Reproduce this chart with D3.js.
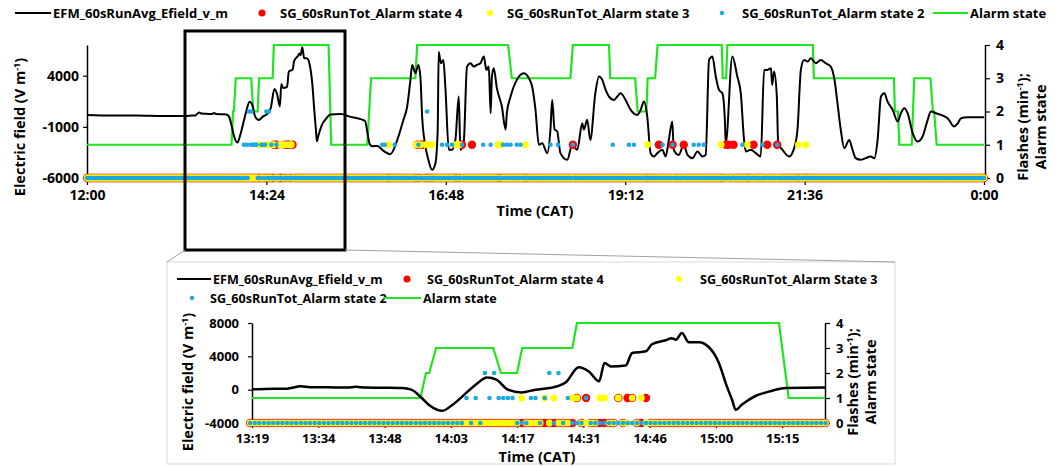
<!DOCTYPE html>
<html>
<head>
<meta charset="utf-8">
<script src="https://cdn.jsdelivr.net/npm/d3@7"></script>
<style>
  body { margin: 0; background: #fff; }
  text { font-family: "Open Sans", sans-serif; font-weight: 700; fill: #000; }
</style>
</head>
<body>
<script>
// E-field 60 s running average (V/m)
const efTimes = [
  "12:00", "12:20", "12:40", "13:00", "13:19.4", "13:24", "13:27", "13:30", "13:32", "13:36",
  "13:40", "13:42", "13:44", "13:48", "13:52", "13:54", "13:56", "13:58", "14:00.7", "14:03",
  "14:06", "14:08", "14:10.5", "14:12.5", "14:15", "14:18", "14:21", "14:24", "14:26", "14:27.6",
  "14:30.4", "14:32.6", "14:34.8", "14:36", "14:37.4", "14:40.6", "14:42", "14:45", "14:46.3", "14:49.3",
  "14:50.6", "14:51.5", "14:52.8", "14:54.3", "14:56.5", "14:58.7", "15:00.8", "15:02.6", "15:03.7", "15:04.5",
  "15:05.8", "15:08.9", "15:11.7", "15:15.4", "15:23.8", "15:31", "15:43", "15:47", "15:49", "15:53",
  "15:58", "16:03.5", "16:09", "16:14", "16:17", "16:19.6", "16:21", "16:23.6", "16:26", "16:27.6",
  "16:29", "16:31.6", "16:34", "16:37", "16:39.7", "16:41.5", "16:42.3", "16:44", "16:46", "16:47.7",
  "16:50.4", "16:53", "16:55.7", "16:58.4", "16:59.7", "17:02.4", "17:05", "17:07.8", "17:10.4", "17:13",
  "17:15.8", "17:18.5", "17:20.6", "17:22.5", "17:24", "17:25", "17:26.5", "17:29", "17:33", "17:36",
  "17:37", "17:40", "17:45", "17:50.6", "17:54.7", "17:57.3", "18:00", "18:02.7", "18:05.4", "18:09.4",
  "18:12", "18:13.4", "18:15.3", "18:17.4", "18:20", "18:25.5", "18:29.5", "18:33.5", "18:37.5", "18:38.8",
  "18:41.5", "18:44", "18:48", "18:51", "18:53.6", "18:56.3", "18:59", "19:03", "19:05.6", "19:08.3",
  "19:12.3", "19:16.4", "19:21.7", "19:24.4", "19:27", "19:29.7", "19:32.4", "19:35", "19:37.8", "19:41.8",
  "19:44.5", "19:47", "19:49.8", "19:51", "19:55", "19:59", "20:02", "20:06", "20:10", "20:14",
  "20:16.6", "20:19.3", "20:22", "20:24.7", "20:27.3", "20:30", "20:32", "20:32.7", "20:38", "20:42",
  "20:44.8", "20:47.4", "20:48.8", "20:52.8", "20:56.8", "21:00.8", "21:03.5", "21:06", "21:09", "21:10",
  "21:11.5", "21:13.7", "21:14.8", "21:18.3", "21:23.6", "21:27.6", "21:30.3", "21:33", "21:35.6", "21:38.4",
  "21:41", "21:45", "21:49", "21:53", "21:57", "22:00", "22:02.4", "22:05", "22:07.8", "22:11.8",
  "22:14.5", "22:17", "22:21", "22:25", "22:29", "22:32", "22:34.6", "22:37.3", "22:40", "22:42.6",
  "22:46.7", "22:50.7", "22:53.3", "22:56", "22:58.7", "23:02.7", "23:06.7", "23:10.8", "23:14.8", "23:17.4",
  "23:21.5", "23:25.5", "23:30.8", "23:36", "23:39", "23:41.6", "23:47", "24:00"
]
const efValues = [
  150, 100, 120, 60, 50, 100, 120, 400, 300, 280,
  250, 350, 250, 230, 200, 0, -850, -1900, -2540, -1800,
  -360, 600, 1450, 1200, 0, -330, 0, 200, 450, 900,
  2700, 2180, 1000, 3200, 2790, 2900, 4400, 4600, 5450, 5930,
  6180, 6000, 6790, 5700, 5700, 5090, 3270, 360, -1210, -2420,
  -1820, -730, -240, 200, 250, 0, -400, -2700, -2900, -2860,
  -3350, -3670, -2300, -316, 985, 3590, 5055, 4240, 5055, 3916,
  6, -2860, -4223, -5200, -4550, -1260, 6350, 5220, 5540, 2780,
  -3246, -3246, -2280, 1960, -3246, -2440, 4890, 5220, 4890, 5060,
  5220, 5870, 4560, 4890, 334, 3916, 4720, 2780, 985, -1260,
  334, 1960, 3590, 4240, 3750, 2940, 660, -2758, -2600, -3570,
  -1260, 1630, -1260, -1430, -3570, -4223, -2758, -3250, -650, -1260,
  -316, -2280, 2280, 3916, 3590, 2610, 1960, 1630, 1960, 2280,
  1630, 660, 170, 660, 1470, 6, -3570, -3900, -3570, -3250,
  -3900, -2280, -480, -3250, -3740, -2760, -3740, -4060, -3410, -3900,
  -3740, 5543, 5870, 3916, 2610, 2280, -316, -2600, 5870, 3916,
  2280, -2280, -3400, -3250, -3570, -3900, 4560, 4560, 4720, 3100,
  4400, 1960, -2600, -3250, -3900, -3080, -1260, 4560, 5540, 5380,
  5700, 5220, 5540, 5220, 4890, 3590, 1310, -1260, -3080, -2280,
  -3250, -4060, -4223, -4060, -3900, -4060, -2280, 1960, 2280, 1470,
  660, -480, 334, 820, 334, -1590, -2440, -1920, -316, 500,
  334, 170, -155, -970, -650, -155, -60, -60
]

// alarm state (1-4)
const alarmTimes = [
  "12:00", "13:56", "13:57.2", "13:57.9", "13:59.4", "14:11.8", "14:13.5", "14:17", "14:18.1", "14:29",
  "14:30", "15:13.9", "15:16", "15:45", "15:48", "16:23.6", "16:25", "17:38", "17:41", "18:28",
  "18:30", "18:59", "19:00", "19:20", "19:22", "19:29", "19:30", "19:36", "19:38", "20:29.5",
  "20:30.3", "20:33", "20:34", "21:42.6", "21:43.4", "22:47.7", "22:48.5", "22:51", "22:52", "23:02",
  "23:04", "23:17", "23:19", "23:20", "23:22", "24:00"
]
const alarmValues = [
  1, 1, 2, 2, 3, 3, 2, 2, 3, 3,
  4, 4, 1, 1, 3, 3, 4, 4, 3, 3,
  4, 4, 3, 3, 2, 2, 3, 3, 4, 4,
  3, 3, 4, 4, 3, 3, 2, 2, 1, 1,
  3, 3, 2, 2, 1, 1
]

// flash rate (min^-1), non-zero minutes only; every other minute is 0
const state4Times = [
  "14:30", "14:32", "14:39", "14:41", "14:42", "14:45", "16:25", "16:28", "16:29", "17:01",
  "17:09", "18:30", "19:39", "19:50", "19:59", "20:33", "20:35", "20:39", "20:55", "21:06", "21:14"
]
const state4Values = [1, 1, 1, 1, 1, 1, 1, 1, 1, 1, 1, 1, 1, 1, 1, 1, 1, 1, 1, 1, 1]

const state3Times = [
  "14:18", "14:23", "14:25", "14:29", "14:30", "14:35", "14:36", "14:39", "14:42", "14:44",
  "16:02", "16:24", "16:26", "16:28", "16:32", "16:34", "16:37", "16:56", "16:59", "17:30",
  "17:32", "17:52", "19:30", "20:29", "20:50", "21:31", "21:37"
]
const state3Values = [1, 1, 1, 1, 1, 1, 1, 1, 1, 1, 1, 1, 1, 1, 1, 1, 1, 1, 1, 1, 1, 1, 1, 1, 1, 1, 1]

const state2Times = [
  "14:06", "14:08", "14:10", "14:11", "14:12", "14:13", "14:14", "14:15", "14:16", "14:20",
  "14:21", "14:23", "14:24", "14:26", "14:28", "14:32", "15:57", "15:59", "16:07", "16:26",
  "16:33", "16:45", "16:49", "16:53", "17:01", "17:18", "17:24", "17:34", "17:37", "17:40",
  "17:45", "17:48", "18:12", "18:18", "18:30", "19:02", "19:15", "19:19", "19:42", "19:50",
  "20:07", "20:11", "20:15", "20:46", "21:02", "21:14"
]
const state2Values = [
  1, 1, 2, 1, 2, 1, 1, 1, 1, 1,
  1, 1, 2, 2, 1, 1, 1, 1, 1, 1,
  2, 1, 1, 1, 1, 1, 1, 1, 1, 1,
  1, 1, 1, 1, 1, 1, 1, 1, 1, 1,
  1, 1, 1, 1, 1, 1
]

const topTickLabels = ["12:00", "14:24", "16:48", "19:12", "21:36", "0:00"]
const zoomTickLabels = ["13:19", "13:34", "13:48", "14:03", "14:17", "14:31", "14:46", "15:00", "15:15"]
const topFieldTicks = [-6000, -1000, 4000]
const zoomFieldTicks = [-4000, 0, 4000, 8000]
const flashTicks = [0, 1, 2, 3, 4]

const BLUE = "#1aa8e6", RED = "#ff0000", YELLOW = "#ffff00", GREEN = "#1ee61e"

const parseT = s => { const p = s.split(':'); return +p[0] * 60 + parseFloat(p[1]) }

const efData = efTimes.map((t, i) => ({ t: parseT(t), v: efValues[i] }))
const alarmData = alarmTimes.map((t, i) => ({ t: parseT(t), v: alarmValues[i] }))

// per-minute records for each flash series
const minutes = d3.range(720, 1441)
function flashSeries(times, values) {
  const m = new Map(times.map((t, i) => [parseT(t), values[i]]))
  return minutes.map(t => ({ t: t, v: m.get(t) || 0 }))
}
const flashLayers = [
  { data: flashSeries(state4Times, state4Values), color: RED, r: 4.2 },
  { data: flashSeries(state3Times, state3Values), color: YELLOW, r: 3.4 },
  { data: flashSeries(state2Times, state2Values), color: BLUE, r: 2.3 }
]

const svg = d3.select('body').append('svg')
  .attr('width', 1055)
  .attr('height', 466)

function drawChart(cfg) {
  const g = svg.append('g')
  const x = d3.scaleLinear().domain(cfg.xDomain).range(cfg.xRange)
  const yE = d3.scaleLinear().domain(cfg.eDomain).range([cfg.bottom, cfg.top])
  const yF = d3.scaleLinear().domain([0, 4]).range([cfg.bottom, cfg.top])

  const clipId = 'clip' + cfg.id
  svg.append('clipPath').attr('id', clipId)
    .append('rect')
    .attr('x', cfg.xRange[0]).attr('y', cfg.top - 5)
    .attr('width', cfg.xRange[1] - cfg.xRange[0]).attr('height', cfg.bottom - cfg.top + 10)

  // x axis
  g.append('g')
    .attr('transform', `translate(0,${cfg.bottom})`)
    .call(d3.axisBottom(x).tickValues(cfg.xTicks).tickFormat((d, i) => cfg.xLabels[i])
      .tickSize(cfg.tickLen).tickSizeOuter(0).tickPadding(cfg.xPad))

  // left axis
  g.append('g')
    .attr('transform', `translate(${cfg.xRange[0]},0)`)
    .call(d3.axisLeft(yE).tickValues(cfg.eTicks).tickFormat(d => String(d))
      .tickSize(4).tickSizeOuter(0).tickPadding(cfg.lPad))

  // right axis
  g.append('g')
    .attr('transform', `translate(${cfg.rightAxis},0)`)
    .call(d3.axisRight(yF).tickValues(flashTicks).tickFormat(d => String(d))
      .tickSize(5).tickSizeOuter(0).tickPadding(6))

  g.selectAll('.domain').attr('stroke', '#000').attr('stroke-width', 1.5)
  g.selectAll('.tick line').attr('stroke', '#000').attr('stroke-width', 1.2)
  g.selectAll('.tick text').attr('font-family', null).attr('font-size', null)
    .style('font-size', cfg.tickFont + 'px')

  // alarm state
  g.append('path')
    .datum(alarmData)
    .attr('clip-path', `url(#${clipId})`)
    .attr('fill', 'none')
    .attr('stroke', GREEN)
    .attr('stroke-width', 2.2)
    .attr('d', d3.line().x(d => x(d.t)).y(d => yF(d.v)))

  // e-field
  g.append('path')
    .datum(efData)
    .attr('clip-path', `url(#${clipId})`)
    .attr('fill', 'none')
    .attr('stroke', '#000')
    .attr('stroke-width', cfg.efWidth)
    .attr('stroke-linejoin', 'round')
    .attr('d', d3.line().curve(d3.curveMonotoneX).x(d => x(d.t)).y(d => yE(d.v)))

  // flash markers
  flashLayers.forEach(layer => {
    g.append('g').selectAll('circle')
      .data(layer.data.filter(d => d.t >= cfg.xDomain[0] - 0.5 && d.t <= cfg.xDomain[1] + 0.5))
      .enter()
      .append('circle')
      .attr('cx', d => x(d.t))
      .attr('cy', d => yF(d.v))
      .attr('r', layer.r)
      .attr('fill', layer.color)
  })

  // axis titles
  const mid = cfg.titleMid
  const lt = g.append('text')
    .attr('transform', `translate(${cfg.leftTitleX},${mid}) rotate(-90)`)
    .attr('text-anchor', 'middle')
    .style('font-size', cfg.titleFont + 'px')
  lt.append('tspan').text('Electric field (V m')
  lt.append('tspan').attr('dy', -5).style('font-size', '9px').text('-1')
  lt.append('tspan').attr('dy', 5).text(')')

  const rt = g.append('text')
    .attr('transform', `translate(${cfg.rightTitleX},${mid}) rotate(-90)`)
    .attr('text-anchor', 'middle')
    .style('font-size', cfg.titleFont + 'px')
  rt.append('tspan').text('Flashes (min')
  rt.append('tspan').attr('dy', -5).style('font-size', '9px').text('-1')
  rt.append('tspan').attr('dy', 5).text(');')
  g.append('text')
    .attr('transform', `translate(${cfg.rightTitleX + 18},${mid}) rotate(-90)`)
    .attr('text-anchor', 'middle')
    .style('font-size', cfg.titleFont + 'px')
    .text('Alarm state')

  g.append('text')
    .attr('x', cfg.timeTitleX)
    .attr('y', cfg.timeTitleY)
    .attr('text-anchor', 'middle')
    .style('font-size', cfg.titleFont + 'px')
    .text('Time (CAT)')

  return x
}

function legend(items, font) {
  items.forEach(it => {
    if (it.type === 'line') {
      svg.append('line')
        .attr('x1', it.x).attr('x2', it.x + it.len)
        .attr('y1', it.y).attr('y2', it.y)
        .attr('stroke', it.color).attr('stroke-width', 2.2)
      svg.append('text').attr('x', it.x + it.len + 2).attr('y', it.y + 4.5)
        .style('font-size', font + 'px').text(it.label)
    } else {
      svg.append('circle').attr('cx', it.x).attr('cy', it.y).attr('r', it.r).attr('fill', it.color)
      svg.append('text').attr('x', it.tx).attr('y', it.y + 4.5)
        .style('font-size', font + 'px').text(it.label)
    }
  })
}

// main chart, whole afternoon/evening
drawChart({
  id: 'top',
  xDomain: [720, 1440], xRange: [87, 984], rightAxis: 985,
  top: 45, bottom: 178,
  eDomain: [-6000, 7000], eTicks: topFieldTicks,
  xTicks: d3.range(720, 1441, 144), xLabels: topTickLabels,
  tickLen: 7, xPad: 5, lPad: 4, tickFont: 14, titleFont: 14.5, efWidth: 2,
  leftTitleX: 25, rightTitleX: 1028, titleMid: 127,
  timeTitleX: 535, timeTitleY: 216
})

legend([
  { type: 'line', x: 15, y: 13, len: 36, color: '#000', label: 'EFM_60sRunAvg_Efield_v_m' },
  { type: 'dot', x: 262, tx: 280, y: 13, r: 3.5, color: RED, label: 'SG_60sRunTot_Alarm state 4' },
  { type: 'dot', x: 490, tx: 507, y: 13, r: 3, color: YELLOW, label: 'SG_60sRunTot_Alarm state 3' },
  { type: 'dot', x: 722, tx: 742, y: 13, r: 2.2, color: BLUE, label: 'SG_60sRunTot_Alarm state 2' },
  { type: 'line', x: 933, y: 13, len: 35, color: GREEN, label: 'Alarm state' }
], 13)

// zoom frame around the first storm on the main chart
svg.append('rect')
  .attr('x', 185).attr('y', 31).attr('width', 160).attr('height', 219)
  .attr('fill', 'none').attr('stroke', '#000').attr('stroke-width', 3)

// panel for the detail chart
svg.append('rect')
  .attr('x', 167).attr('y', 262).attr('width', 728).attr('height', 202)
  .attr('fill', '#fff').attr('stroke', '#d9d9d9').attr('stroke-width', 1)
svg.append('line').attr('x1', 185).attr('y1', 250).attr('x2', 167).attr('y2', 262)
  .attr('stroke', '#a0a0a0').attr('stroke-width', 1)
svg.append('line').attr('x1', 345).attr('y1', 250).attr('x2', 895).attr('y2', 262)
  .attr('stroke', '#a0a0a0').attr('stroke-width', 1)

const zStart = parseT("13:19.4")
drawChart({
  id: 'zoom',
  xDomain: [zStart, parseT("15:23.9")], xRange: [252, 825], rightAxis: 825,
  top: 323, bottom: 423,
  eDomain: [-4000, 8000], eTicks: zoomFieldTicks,
  xTicks: zoomTickLabels.map((d, i) => zStart + i * 14.4), xLabels: zoomTickLabels,
  tickLen: 5, xPad: 6, lPad: 9, tickFont: 13, titleFont: 14.5, efWidth: 2.5,
  leftTitleX: 193, rightTitleX: 858, titleMid: 382,
  timeTitleX: 537, timeTitleY: 462
})

legend([
  { type: 'line', x: 177, y: 279, len: 34, color: '#000', label: 'EFM_60sRunAvg_Efield_v_m' },
  { type: 'dot', x: 407, tx: 427, y: 279, r: 3.5, color: RED, label: 'SG_60sRunTot_Alarm state 4' },
  { type: 'dot', x: 679, tx: 700, y: 279, r: 3, color: YELLOW, label: 'SG_60sRunTot_Alarm State 3' },
  { type: 'dot', x: 192, tx: 210, y: 298, r: 2.2, color: BLUE, label: 'SG_60sRunTot_Alarm state 2' },
  { type: 'line', x: 383, y: 298, len: 38, color: GREEN, label: 'Alarm state' }
], 12.6)
</script>
</body>
</html>
